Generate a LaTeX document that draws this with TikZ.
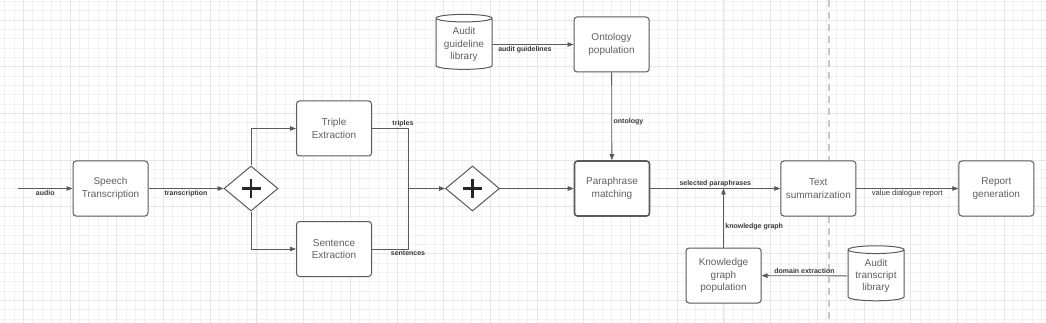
\documentclass[tikz,border=0pt]{standalone}
\usepackage{fontspec}
\setmainfont{Liberation Sans}
\usetikzlibrary{arrows.meta,positioning,shapes.geometric}
\definecolor{boxline}{HTML}{5A5A5A}
\definecolor{boxtext}{HTML}{606060}
\definecolor{lbltext}{HTML}{383838}
\definecolor{gridminor}{HTML}{F2F2F2}
\definecolor{gridmajor}{HTML}{E6E6E6}
\definecolor{lanecol}{HTML}{C8C8C8}

\begin{document}
\begin{tikzpicture}[x=1pt, y=-1pt,
  task/.style={draw=boxline, line width=1pt, rounded corners=3pt, fill=white,
    text=boxtext, align=center, font=\fontsize{10}{12.4}\selectfont,
    minimum width=75pt, minimum height=55pt, inner sep=2pt},
  store/.style={cylinder, shape border rotate=90, aspect=0.18, draw=boxline,
    line width=1pt, fill=white, text=boxtext, align=center,
    font=\fontsize{10}{12.4}\selectfont, minimum width=56pt, minimum height=55pt,
    inner sep=1pt},
  gate/.style={diamond, draw=boxline, line width=1pt, fill=white,
    minimum width=54pt, minimum height=45pt, inner sep=0pt,
    path picture={\draw[line width=2.6pt, black!85]
      ([xshift=-9.5pt]path picture bounding box.center) -- ([xshift=9.5pt]path picture bounding box.center)
      ([yshift=-9.5pt]path picture bounding box.center) -- ([yshift=9.5pt]path picture bounding box.center);}},
  flow/.style={draw=boxline, line width=0.8pt},
  arr/.style={flow, -{Triangle[length=6pt, width=4.5pt]}},
  lbl/.style={font=\bfseries\fontsize{7}{8}\selectfont, text=lbltext, inner sep=1.5pt}
]
  \useasboundingbox (0,0) rectangle (1046,323);
  % background grid
  \foreach \k in {-2,...,109} \draw[gridminor, line width=0.6pt] ({23.3+9.34*\k},0) -- ({23.3+9.34*\k},323);
  \foreach \k in {-2,...,32} \draw[gridminor, line width=0.6pt] (0,{20+9.34*\k}) -- (1046,{20+9.34*\k});
  \foreach \k in {0,...,21} \draw[gridmajor, line width=0.8pt] ({23.3+46.7*\k},0) -- ({23.3+46.7*\k},323);
  \foreach \k in {0,...,6} \draw[gridmajor, line width=0.8pt] (0,{20+46.7*\k}) -- (1046,{20+46.7*\k});
  \draw[lanecol, line width=1.4pt, dash pattern=on 7pt off 5pt] (829,0) -- (829,323);

  \coordinate (src) at (18,188.5);
  \node[task] (speech) at (110.5,188.5) {Speech\\Transcription};
  \node[gate, right=75pt of speech] (fork) {};
  \node[task] (triple) at (334,128.5) {Triple\\Extraction};
  \node[task] (sentence) at (334,249) {Sentence\\Extraction};
  \coordinate (merge) at (408,188.5);
  \node[gate] (join) at (472.5,188.5) {};
  \node[task, line width=1.6pt] (para) at (612,188.5) {Paraphrase\\matching};
  \node[task, right=130pt of para] (summ) {Text\\summarization};
  \node[task, right=102pt of summ] (report) {Report\\generation};
  \node[store] (guide) at (464,44.5) {Audit\\guideline\\library};
  \node[task] (onto) at (611.5,44.5) {Ontology\\population};
  \node[task] (kg) at (723.5,275.5) {Knowledge\\graph\\population};
  \node[store] (trans) at (876,276) {Audit\\transcript\\library};

  \draw[arr] (src) -- node[lbl, below]{audio} (speech);
  \draw[arr] (speech) -- node[lbl, below]{transcription} (fork);
  \draw[arr] (fork.north) |- (triple.west);
  \draw[arr] (fork.south) |- (sentence.west);
  \draw[flow] (triple.east) -| node[lbl, above, pos=0.43]{triples} (merge);
  \draw[flow] (sentence.east) -| node[lbl, below, pos=0.5]{sentences} (merge);
  \draw[arr] (merge) -- (join);
  \draw[arr] (join) -- (para);
  \draw[arr] (guide) -- node[lbl, below, pos=0.4]{audit guidelines} (onto);
  \draw[arr] (onto) -- node[lbl, right, pos=0.56]{ontology} (para);
  \draw[arr] (para) -- node[lbl, above]{selected paraphrases} (summ);
  \draw[arr] (kg) -- node[lbl, right, pos=0.35]{knowledge graph} (kg |- para);
  \draw[arr] (trans) -- node[lbl, above]{domain extraction} (kg);
  \draw[arr] (summ) -- node[lbl, below, font=\fontsize{7.6}{8}\selectfont]{value dialogue report} (report);
\end{tikzpicture}
\end{document}
